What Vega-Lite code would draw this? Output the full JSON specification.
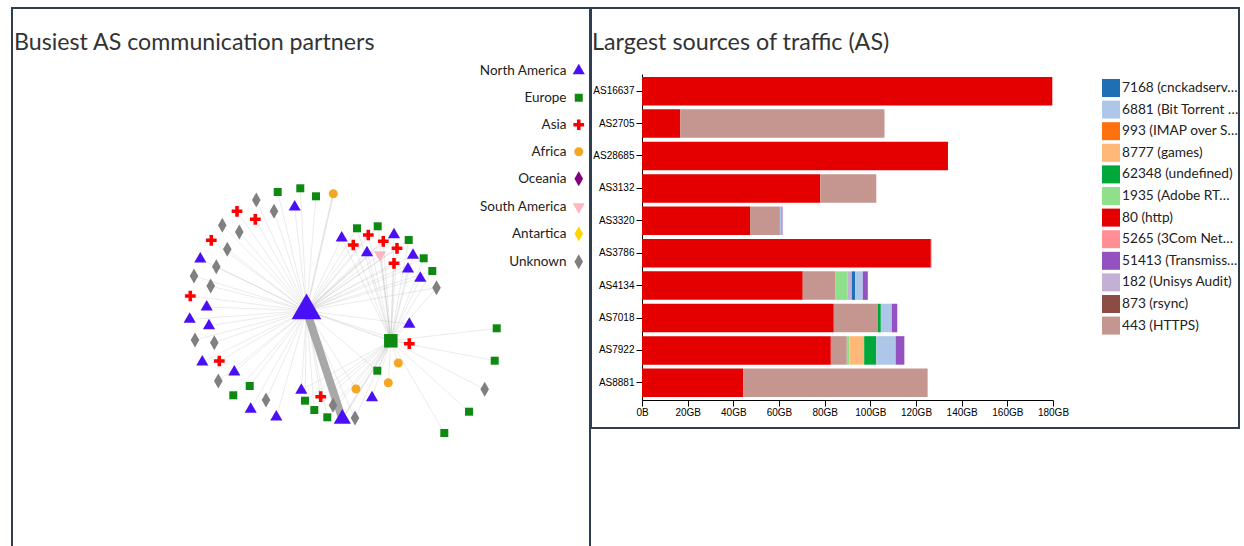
{
  "$schema": "https://vega.github.io/schema/vega-lite/v6.json",
  "padding": {"left": 11, "top": 7, "right": 0, "bottom": 0},
  "background": "white",
  "config": {
    "view": {"stroke": "#2c3e50", "strokeWidth": 2},
    "font": "Lato",
    "concat": {"spacing": -2}
  },
  "resolve": {
    "scale": {"color": "independent", "shape": "independent", "size": "independent", "x": "independent", "y": "independent", "strokeWidth": "independent", "opacity": "independent"},
    "legend": {"color": "independent", "shape": "independent"}
  },
  "datasets": {
    "nodes": [
      {"id": 0, "cont": "North America", "x": 306.5, "y": 310.7, "w": 60},
      {"id": 1, "cont": "Unknown", "x": 256.3, "y": 200, "w": 1},
      {"id": 2, "cont": "Europe", "x": 277.7, "y": 192, "w": 1},
      {"id": 3, "cont": "Europe", "x": 300.3, "y": 188.3, "w": 1},
      {"id": 4, "cont": "Europe", "x": 316, "y": 196.3, "w": 1},
      {"id": 5, "cont": "Africa", "x": 333.3, "y": 193.7, "w": 1},
      {"id": 6, "cont": "North America", "x": 294.7, "y": 207, "w": 1},
      {"id": 7, "cont": "Unknown", "x": 274, "y": 211.3, "w": 1},
      {"id": 8, "cont": "Asia", "x": 237, "y": 211.3, "w": 1},
      {"id": 9, "cont": "Asia", "x": 255.3, "y": 219.3, "w": 1},
      {"id": 10, "cont": "Unknown", "x": 222.3, "y": 225.3, "w": 1},
      {"id": 11, "cont": "Unknown", "x": 239.3, "y": 232, "w": 1},
      {"id": 12, "cont": "Asia", "x": 211.3, "y": 240.3, "w": 1},
      {"id": 13, "cont": "Unknown", "x": 227.3, "y": 249.3, "w": 1},
      {"id": 14, "cont": "North America", "x": 200.3, "y": 259, "w": 1},
      {"id": 15, "cont": "Unknown", "x": 216.3, "y": 266.7, "w": 1},
      {"id": 16, "cont": "Unknown", "x": 194, "y": 276, "w": 1},
      {"id": 17, "cont": "Unknown", "x": 210.7, "y": 286, "w": 1},
      {"id": 18, "cont": "Asia", "x": 190.3, "y": 296, "w": 1},
      {"id": 19, "cont": "North America", "x": 206.7, "y": 307, "w": 1},
      {"id": 20, "cont": "North America", "x": 189.7, "y": 319.3, "w": 1},
      {"id": 21, "cont": "North America", "x": 209, "y": 325.7, "w": 1},
      {"id": 22, "cont": "Unknown", "x": 195, "y": 340, "w": 1},
      {"id": 23, "cont": "Unknown", "x": 214.3, "y": 342.7, "w": 1},
      {"id": 24, "cont": "North America", "x": 202.3, "y": 362, "w": 1},
      {"id": 25, "cont": "Asia", "x": 219.3, "y": 361, "w": 1},
      {"id": 26, "cont": "North America", "x": 234.3, "y": 372, "w": 1},
      {"id": 27, "cont": "Unknown", "x": 218.3, "y": 381, "w": 1},
      {"id": 28, "cont": "Europe", "x": 249.7, "y": 386, "w": 1},
      {"id": 29, "cont": "Europe", "x": 233.3, "y": 395.3, "w": 1},
      {"id": 30, "cont": "Unknown", "x": 266, "y": 400, "w": 1},
      {"id": 31, "cont": "North America", "x": 250.7, "y": 409.3, "w": 1},
      {"id": 32, "cont": "North America", "x": 276.3, "y": 417, "w": 1},
      {"id": 33, "cont": "North America", "x": 301.3, "y": 390.3, "w": 1},
      {"id": 34, "cont": "Asia", "x": 320.7, "y": 396.7, "w": 1},
      {"id": 35, "cont": "Europe", "x": 305, "y": 400.7, "w": 1},
      {"id": 36, "cont": "Europe", "x": 314.3, "y": 410, "w": 1},
      {"id": 37, "cont": "Europe", "x": 327.3, "y": 417.3, "w": 1},
      {"id": 38, "cont": "Unknown", "x": 333, "y": 405.3, "w": 1},
      {"id": 39, "cont": "North America", "x": 342.3, "y": 418.9, "w": 13},
      {"id": 40, "cont": "Unknown", "x": 355, "y": 418, "w": 1},
      {"id": 41, "cont": "Africa", "x": 356, "y": 389, "w": 1},
      {"id": 42, "cont": "North America", "x": 372, "y": 397.7, "w": 1},
      {"id": 43, "cont": "Europe", "x": 377.3, "y": 370.7, "w": 1},
      {"id": 44, "cont": "Africa", "x": 388.3, "y": 382.7, "w": 1},
      {"id": 45, "cont": "Africa", "x": 398.3, "y": 363, "w": 1},
      {"id": 46, "cont": "Europe", "x": 390.8, "y": 340.8, "w": 23},
      {"id": 47, "cont": "Asia", "x": 409.3, "y": 343.7, "w": 1},
      {"id": 48, "cont": "North America", "x": 409.3, "y": 324.3, "w": 1},
      {"id": 49, "cont": "Unknown", "x": 436.5, "y": 287.7, "w": 1},
      {"id": 50, "cont": "North America", "x": 341.7, "y": 238, "w": 1},
      {"id": 51, "cont": "Europe", "x": 357, "y": 228.3, "w": 1},
      {"id": 52, "cont": "Asia", "x": 353.3, "y": 245, "w": 1},
      {"id": 53, "cont": "Asia", "x": 368.3, "y": 235, "w": 1},
      {"id": 54, "cont": "Europe", "x": 377.7, "y": 226.3, "w": 1},
      {"id": 55, "cont": "North America", "x": 367, "y": 252.7, "w": 1},
      {"id": 56, "cont": "South America", "x": 380, "y": 254.7, "w": 1},
      {"id": 57, "cont": "Asia", "x": 383.3, "y": 241.3, "w": 1},
      {"id": 58, "cont": "North America", "x": 394, "y": 234.7, "w": 1},
      {"id": 59, "cont": "Europe", "x": 408.7, "y": 240, "w": 1},
      {"id": 60, "cont": "Asia", "x": 397, "y": 248.3, "w": 1},
      {"id": 61, "cont": "Asia", "x": 394, "y": 263.3, "w": 1},
      {"id": 62, "cont": "North America", "x": 413, "y": 255.3, "w": 1},
      {"id": 63, "cont": "Europe", "x": 423.7, "y": 258.3, "w": 1},
      {"id": 64, "cont": "North America", "x": 408, "y": 269, "w": 1},
      {"id": 65, "cont": "Europe", "x": 432.3, "y": 271, "w": 1},
      {"id": 66, "cont": "North America", "x": 420.3, "y": 278.3, "w": 1},
      {"id": 67, "cont": "Europe", "x": 496.7, "y": 328.3, "w": 1},
      {"id": 68, "cont": "Europe", "x": 494.7, "y": 360.7, "w": 1},
      {"id": 69, "cont": "Unknown", "x": 484.7, "y": 389.3, "w": 1},
      {"id": 70, "cont": "Europe", "x": 469, "y": 411.7, "w": 1},
      {"id": 71, "cont": "Europe", "x": 444.3, "y": 433, "w": 1}
    ],
    "links": [
      {"s": 0, "t": 1, "traffic": 1}, {"s": 0, "t": 2, "traffic": 1}, {"s": 0, "t": 3, "traffic": 1},
      {"s": 0, "t": 4, "traffic": 1}, {"s": 0, "t": 5, "traffic": 4}, {"s": 0, "t": 6, "traffic": 1},
      {"s": 0, "t": 7, "traffic": 1}, {"s": 0, "t": 8, "traffic": 1}, {"s": 0, "t": 9, "traffic": 1},
      {"s": 0, "t": 10, "traffic": 1}, {"s": 0, "t": 11, "traffic": 1}, {"s": 0, "t": 12, "traffic": 1},
      {"s": 0, "t": 13, "traffic": 1}, {"s": 0, "t": 14, "traffic": 1}, {"s": 0, "t": 15, "traffic": 1},
      {"s": 0, "t": 16, "traffic": 1}, {"s": 0, "t": 17, "traffic": 1}, {"s": 0, "t": 18, "traffic": 1},
      {"s": 0, "t": 19, "traffic": 1}, {"s": 0, "t": 20, "traffic": 1}, {"s": 0, "t": 21, "traffic": 1},
      {"s": 0, "t": 22, "traffic": 1}, {"s": 0, "t": 23, "traffic": 1}, {"s": 0, "t": 24, "traffic": 1},
      {"s": 0, "t": 25, "traffic": 1}, {"s": 0, "t": 26, "traffic": 1}, {"s": 0, "t": 27, "traffic": 1},
      {"s": 0, "t": 28, "traffic": 1}, {"s": 0, "t": 29, "traffic": 1}, {"s": 0, "t": 30, "traffic": 1},
      {"s": 0, "t": 31, "traffic": 1}, {"s": 0, "t": 32, "traffic": 1}, {"s": 0, "t": 33, "traffic": 1},
      {"s": 0, "t": 34, "traffic": 1}, {"s": 0, "t": 35, "traffic": 1}, {"s": 0, "t": 36, "traffic": 1},
      {"s": 0, "t": 37, "traffic": 1}, {"s": 0, "t": 38, "traffic": 1}, {"s": 0, "t": 39, "traffic": 30},
      {"s": 0, "t": 40, "traffic": 1}, {"s": 0, "t": 41, "traffic": 1}, {"s": 0, "t": 43, "traffic": 1},
      {"s": 0, "t": 46, "traffic": 2}, {"s": 0, "t": 47, "traffic": 1}, {"s": 0, "t": 48, "traffic": 1},
      {"s": 0, "t": 49, "traffic": 1}, {"s": 0, "t": 50, "traffic": 1}, {"s": 0, "t": 51, "traffic": 1},
      {"s": 0, "t": 52, "traffic": 1}, {"s": 0, "t": 53, "traffic": 1}, {"s": 0, "t": 54, "traffic": 1},
      {"s": 0, "t": 55, "traffic": 1}, {"s": 0, "t": 56, "traffic": 1}, {"s": 0, "t": 57, "traffic": 3},
      {"s": 0, "t": 58, "traffic": 1}, {"s": 0, "t": 59, "traffic": 1}, {"s": 0, "t": 60, "traffic": 1},
      {"s": 0, "t": 61, "traffic": 1}, {"s": 0, "t": 62, "traffic": 1}, {"s": 0, "t": 63, "traffic": 1},
      {"s": 0, "t": 64, "traffic": 1}, {"s": 0, "t": 65, "traffic": 1}, {"s": 0, "t": 66, "traffic": 1},
      {"s": 46, "t": 33, "traffic": 1}, {"s": 46, "t": 34, "traffic": 1}, {"s": 46, "t": 35, "traffic": 1},
      {"s": 46, "t": 36, "traffic": 1}, {"s": 46, "t": 37, "traffic": 1}, {"s": 46, "t": 38, "traffic": 1},
      {"s": 46, "t": 39, "traffic": 4}, {"s": 46, "t": 40, "traffic": 1}, {"s": 46, "t": 41, "traffic": 1},
      {"s": 46, "t": 42, "traffic": 1}, {"s": 46, "t": 43, "traffic": 1}, {"s": 46, "t": 44, "traffic": 1},
      {"s": 46, "t": 45, "traffic": 1}, {"s": 46, "t": 47, "traffic": 1}, {"s": 46, "t": 48, "traffic": 1},
      {"s": 46, "t": 49, "traffic": 1}, {"s": 46, "t": 50, "traffic": 1}, {"s": 46, "t": 51, "traffic": 1},
      {"s": 46, "t": 52, "traffic": 1}, {"s": 46, "t": 53, "traffic": 1}, {"s": 46, "t": 54, "traffic": 1},
      {"s": 46, "t": 55, "traffic": 1}, {"s": 46, "t": 56, "traffic": 3}, {"s": 46, "t": 57, "traffic": 1},
      {"s": 46, "t": 58, "traffic": 1}, {"s": 46, "t": 59, "traffic": 1}, {"s": 46, "t": 60, "traffic": 1},
      {"s": 46, "t": 61, "traffic": 1}, {"s": 46, "t": 62, "traffic": 1}, {"s": 46, "t": 63, "traffic": 1},
      {"s": 46, "t": 64, "traffic": 1}, {"s": 46, "t": 65, "traffic": 1}, {"s": 46, "t": 66, "traffic": 1},
      {"s": 46, "t": 67, "traffic": 1}, {"s": 46, "t": 68, "traffic": 1}, {"s": 46, "t": 69, "traffic": 1},
      {"s": 46, "t": 70, "traffic": 1}, {"s": 46, "t": 71, "traffic": 1}
    ],
    "traffic": [
      {"as": "AS16637", "service": "80 (http)", "gb": 179.7},
      {"as": "AS2705", "service": "80 (http)", "gb": 16.8},
      {"as": "AS2705", "service": "443 (HTTPS)", "gb": 89.4},
      {"as": "AS28685", "service": "80 (http)", "gb": 134.0},
      {"as": "AS3132", "service": "80 (http)", "gb": 78.1},
      {"as": "AS3132", "service": "443 (HTTPS)", "gb": 24.5},
      {"as": "AS3320", "service": "80 (http)", "gb": 47.3},
      {"as": "AS3320", "service": "443 (HTTPS)", "gb": 13.1},
      {"as": "AS3320", "service": "6881 (Bit Torrent Protocol)", "gb": 0.7},
      {"as": "AS3320", "service": "51413 (Transmission)", "gb": 0.4},
      {"as": "AS3786", "service": "80 (http)", "gb": 126.5},
      {"as": "AS3786", "service": "443 (HTTPS)", "gb": 0.3},
      {"as": "AS4134", "service": "80 (http)", "gb": 70.4},
      {"as": "AS4134", "service": "443 (HTTPS)", "gb": 14.2},
      {"as": "AS4134", "service": "1935 (Adobe RTMP)", "gb": 5.5},
      {"as": "AS4134", "service": "182 (Unisys Audit)", "gb": 1.8},
      {"as": "AS4134", "service": "7168 (cnckadserver)", "gb": 1.5},
      {"as": "AS4134", "service": "6881 (Bit Torrent Protocol)", "gb": 3.3},
      {"as": "AS4134", "service": "51413 (Transmission)", "gb": 2.2},
      {"as": "AS7018", "service": "80 (http)", "gb": 84.0},
      {"as": "AS7018", "service": "443 (HTTPS)", "gb": 19.3},
      {"as": "AS7018", "service": "62348 (undefined)", "gb": 1.3},
      {"as": "AS7018", "service": "6881 (Bit Torrent Protocol)", "gb": 4.8},
      {"as": "AS7018", "service": "51413 (Transmission)", "gb": 2.4},
      {"as": "AS7922", "service": "80 (http)", "gb": 82.7},
      {"as": "AS7922", "service": "443 (HTTPS)", "gb": 7.0},
      {"as": "AS7922", "service": "1935 (Adobe RTMP)", "gb": 1.2},
      {"as": "AS7922", "service": "8777 (games)", "gb": 6.4},
      {"as": "AS7922", "service": "62348 (undefined)", "gb": 5.3},
      {"as": "AS7922", "service": "6881 (Bit Torrent Protocol)", "gb": 8.5},
      {"as": "AS7922", "service": "51413 (Transmission)", "gb": 3.8},
      {"as": "AS8881", "service": "80 (http)", "gb": 44.3},
      {"as": "AS8881", "service": "443 (HTTPS)", "gb": 80.8}
    ]
  },
  "hconcat": [
    {
      "width": 578,
      "height": 540,
      "title": {"text": "Busiest AS communication partners", "anchor": "start", "frame": "group", "offset": -41, "dy": 24, "baseline": "alphabetic", "dx": 2, "fontSize": 23.2, "font": "Lato", "fontWeight": "normal", "color": "#333333"},
      "layer": [
        {
          "data": {"name": "links"},
          "transform": [
            {"lookup": "s", "from": {"data": {"name": "nodes"}, "key": "id", "fields": ["x", "y"]}, "as": ["sx", "sy"]},
            {"lookup": "t", "from": {"data": {"name": "nodes"}, "key": "id", "fields": ["x", "y"]}, "as": ["tx", "ty"]}
          ],
          "mark": {"type": "rule", "stroke": "#999999"},
          "encoding": {
            "x": {"field": "sx", "type": "quantitative", "scale": {"domain": [12, 590], "nice": false, "zero": false}, "axis": null},
            "y": {"field": "sy", "type": "quantitative", "scale": {"domain": [8, 548], "nice": false, "zero": false, "reverse": true}, "axis": null},
            "x2": {"field": "tx"},
            "y2": {"field": "ty"},
            "strokeWidth": {"field": "traffic", "type": "quantitative", "scale": {"domain": [1, 30], "range": [1, 8]}, "legend": null},
            "opacity": {"field": "traffic", "type": "quantitative", "scale": {"domain": [1, 30], "range": [0.2, 0.85]}, "legend": null}
          }
        },
        {
          "data": {"name": "nodes"},
          "mark": {"type": "point", "filled": true, "opacity": 1, "strokeWidth": 0},
          "encoding": {
            "x": {"field": "x", "type": "quantitative"},
            "y": {"field": "y", "type": "quantitative"},
            "size": {"field": "w", "type": "quantitative", "scale": {"domain": [1, 60], "range": [64, 382]}, "legend": null},
            "color": {
              "field": "cont", "type": "nominal",
              "scale": {
                "domain": ["North America", "Europe", "Asia", "Africa", "Oceania", "South America", "Antartica", "Unknown"],
                "range": ["#4a10f5", "#0e8a12", "#ff0000", "#f5a623", "#800080", "#ffb6c1", "#ffd700", "#808080"]
              },
              "legend": {"orient": "none", "legendX": 560, "legendY": 56, "title": null, "symbolSize": 64, "labelAlign": "right", "labelOffset": -19, "rowPadding": 12, "labelFont": "Lato", "labelFontSize": 13.5, "labelColor": "#222222", "symbolStrokeWidth": 0, "padding": 0}
            },
            "shape": {
              "field": "cont", "type": "nominal",
              "scale": {
                "domain": ["North America", "Europe", "Asia", "Africa", "Oceania", "South America", "Antartica", "Unknown"],
                "range": [
                  "M0,-1.755L1.52,0.877L-1.52,0.877Z",
                  "square",
                  "M-1.342,-0.447L-0.447,-0.447L-0.447,-1.342L0.447,-1.342L0.447,-0.447L1.342,-0.447L1.342,0.447L0.447,0.447L0.447,1.342L-0.447,1.342L-0.447,0.447L-1.342,0.447Z",
                  "M1.128,0A1.128,1.128,0,1,1,-1.128,0A1.128,1.128,0,1,1,1.128,0Z",
                  "M0,-1.861L1.075,0L0,1.861L-1.075,0Z",
                  "M0,1.755L1.52,-0.877L-1.52,-0.877Z",
                  "M0,-1.861L1.075,0L0,1.861L-1.075,0Z",
                  "M0,-1.861L1.075,0L0,1.861L-1.075,0Z"
                ]
              },
              "legend": {"orient": "none", "legendX": 560, "legendY": 56, "title": null, "symbolSize": 64, "labelAlign": "right", "labelOffset": -19, "rowPadding": 12, "labelFont": "Lato", "labelFontSize": 13.5, "labelColor": "#222222", "symbolStrokeWidth": 0, "padding": 0}
            }
          }
        }
      ]
    },
    {
      "width": 648,
      "height": 420,
      "data": {"name": "traffic"},
      "title": {"text": "Largest sources of traffic (AS)", "anchor": "start", "frame": "group", "offset": -41, "dy": 24, "baseline": "alphabetic", "dx": 1, "fontSize": 23.3, "font": "Lato", "fontWeight": "normal", "color": "#333333"},
      "transform": [
        {"calculate": "indexof(['80 (http)', '443 (HTTPS)', '1935 (Adobe RTMP)', '182 (Unisys Audit)', '8777 (games)', '62348 (undefined)', '7168 (cnckadserver)', '6881 (Bit Torrent Protocol)', '51413 (Transmission)'], datum.service)", "as": "ord"}
      ],
      "mark": {"type": "bar"},
      "encoding": {
        "y": {
          "field": "as", "type": "nominal",
          "scale": {"range": [66, 392], "paddingInner": 0.12, "paddingOuter": 0.09},
          "axis": {"title": null, "offset": -51, "labelFont": "Liberation Sans", "labelFontSize": 10, "labelColor": "#000000", "tickColor": "#000000", "domainColor": "#000000", "tickSize": 6, "labelPadding": 2, "grid": false}
        },
        "x": {
          "field": "gb", "type": "quantitative", "stack": "zero",
          "scale": {"domain": [0, 180], "range": [51, 462], "nice": false, "zero": false},
          "axis": {"title": null, "offset": -28, "values": [0, 20, 40, 60, 80, 100, 120, 140, 160, 180], "labelExpr": "datum.value === 0 ? '0B' : datum.value + 'GB'", "labelFont": "Liberation Sans", "labelFontSize": 10, "labelColor": "#000000", "tickColor": "#000000", "domainColor": "#000000", "tickSize": 6, "labelPadding": 1, "grid": false, "labelFlush": false, "labelOverlap": false}
        },
        "color": {
          "field": "service", "type": "nominal",
          "scale": {
            "domain": ["7168 (cnckadserver)", "6881 (Bit Torrent Protocol)", "993 (IMAP over SSL)", "8777 (games)", "62348 (undefined)", "1935 (Adobe RTMP)", "80 (http)", "5265 (3Com Network Jack Port)", "51413 (Transmission)", "182 (Unisys Audit)", "873 (rsync)", "443 (HTTPS)"],
            "range": ["#1f6fb4", "#aec7e8", "#ff700e", "#ffb878", "#00a83a", "#8ee08a", "#e50000", "#ff8f94", "#9452c0", "#c5b0d5", "#8c4b44", "#c4968f"]
          },
          "legend": {"orient": "none", "legendX": 511, "legendY": 71, "title": null, "symbolType": "square", "symbolSize": 324, "symbolStrokeWidth": 0, "symbolOpacity": 1, "labelFont": "Lato", "labelFontSize": 13.7, "labelColor": "#222222", "labelOffset": 2, "rowPadding": 3.6, "labelLimit": 118, "padding": 0}
        },
        "order": {"field": "ord", "type": "quantitative"}
      }
    }
  ]
}
